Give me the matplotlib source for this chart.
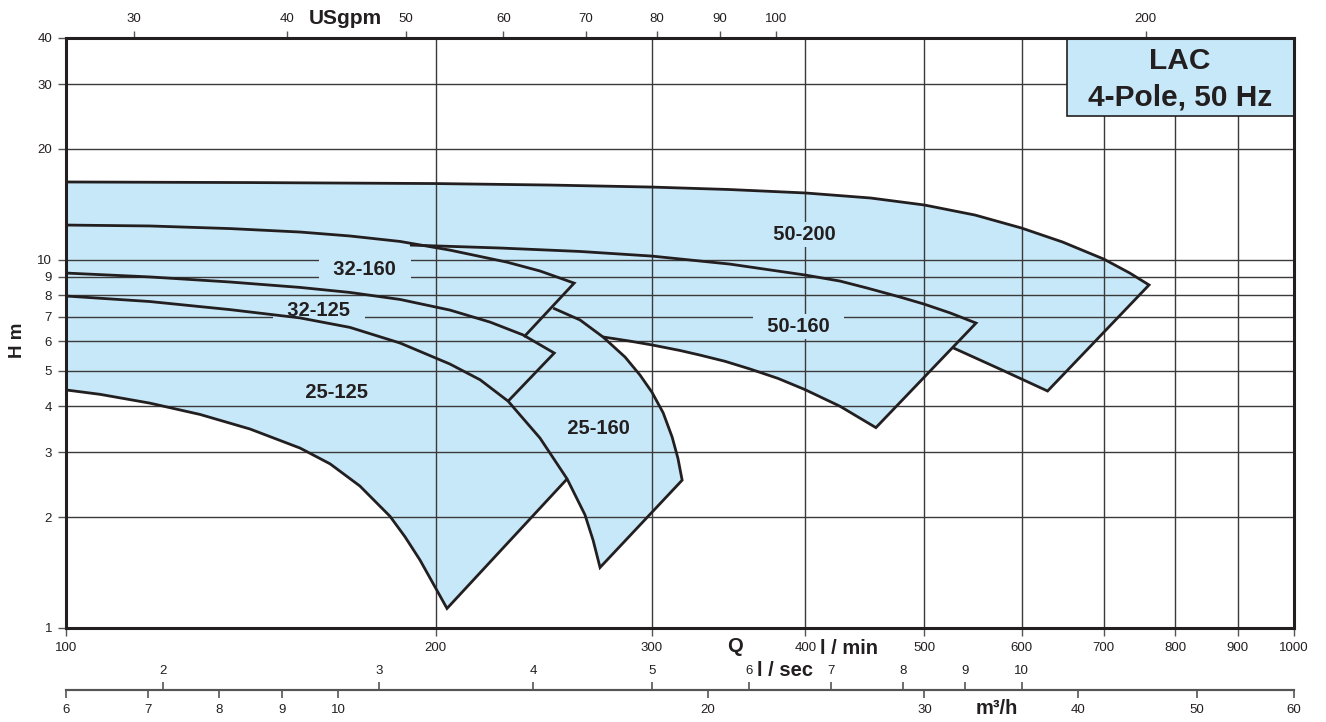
import matplotlib.pyplot as plt
from matplotlib.patches import Rectangle
from matplotlib.ticker import NullLocator

plt.rcParams['font.family'] = ['Liberation Sans', 'DejaVu Sans']

FILL = '#C7E8F8'
LINE = '#231F20'
GRID = '#3a3a3a'

# Q in l/min, H in m; max impeller (top) and min impeller (bottom)
q_50200_max = [100, 141, 200, 248, 300, 347, 400, 452, 500, 550, 600, 648, 700, 735, 762]
h_50200_max = [16.26, 16.2, 16.1, 15.95, 15.75, 15.51, 15.18, 14.71, 14.08, 13.22, 12.19,
               11.17, 10.04, 9.20, 8.54]
q_50200_min = [100, 200, 300, 400, 500, 528, 576, 630]
h_50200_min = [11.0, 10.0, 8.6, 7.3, 6.3, 5.76, 5.05, 4.40]

q_50160_max = [100, 155, 190.6, 225.6, 262.2, 300, 347.3, 399.7, 426.9, 449, 477.7, 499.6,
               524.8, 550.9]
h_50160_max = [11.4, 11.17, 10.96, 10.76, 10.53, 10.23, 9.73, 9.09, 8.75, 8.38, 7.92, 7.58,
               7.17, 6.73]
q_50160_min = [100, 187, 249, 273.7, 288.0, 300, 316.2, 328.2, 344.0, 360.6, 380.1, 399.7,
               426.9, 456.6]
h_50160_min = [8.3, 7.08, 6.45, 6.17, 6.01, 5.87, 5.67, 5.51, 5.30, 5.05, 4.76, 4.44, 4.00, 3.50]

q_32160_max = [100, 117, 136, 155.1, 170.3, 187.1, 205.4, 228.6, 243.2, 259.3]
h_32160_max = [12.42, 12.35, 12.15, 11.89, 11.60, 11.21, 10.62, 9.85, 9.32, 8.64]
q_32160_min = [100, 155, 205, 236]
h_32160_min = [8.6, 7.77, 6.95, 6.17]

q_32125_max = [100, 117, 136, 155.1, 170.3, 187.1, 205.4, 221.5, 235.6, 249.8]
h_32125_max = [9.20, 8.98, 8.70, 8.41, 8.15, 7.80, 7.30, 6.77, 6.25, 5.58]
q_32125_min = [100, 187, 229.1]
h_32125_min = [6.44, 4.86, 4.13]

q_25160_max = [100, 187, 249.3, 262.2, 273.7, 285.3, 293.4, 300, 306.4, 311.6, 315.0, 317.5]
h_25160_max = [10.6, 9.4, 7.39, 6.86, 6.17, 5.44, 4.86, 4.37, 3.84, 3.30, 2.89, 2.52]
q_25160_min = [100, 117, 136, 155.1, 170.3, 187.1, 205.4, 217.4, 229.1, 243.2, 255.9, 264.6,
               268.7, 272.2]
h_25160_min = [7.97, 7.70, 7.32, 6.95, 6.55, 5.94, 5.21, 4.72, 4.13, 3.28, 2.54, 2.03, 1.73, 1.46]

q_25125_max = [100, 187, 277.3]
h_25125_max = [7.6, 6.0, 3.38]
q_25125_min = [100, 106.6, 117.0, 128.6, 141.2, 155.1, 164.1, 173.5, 183.6, 188.8, 194.2, 204.3]
h_25125_min = [4.43, 4.31, 4.08, 3.80, 3.47, 3.08, 2.79, 2.43, 2.01, 1.77, 1.53, 1.13]
# where the 25-125 end line disappears under the 25-160 field
q_25125_cut = [255.9]
h_25125_cut = [2.54]

label_names = ['50-200', '50-160', '32-160', '32-125', '25-160', '25-125']
label_q = [399.7, 394.6, 175.2, 160.7, 271.7, 166.2]
label_h = [11.74, 6.57, 9.38, 7.30, 3.49, 4.37]

x_ticks = [100, 200, 300, 400, 500, 600, 700, 800, 900, 1000]
y_ticks = [1, 2, 3, 4, 5, 6, 7, 8, 9, 10, 20, 30, 40]
gpm_ticks = [30, 40, 50, 60, 70, 80, 90, 100, 200]
lsec_ticks = [2, 3, 4, 5, 6, 7, 8, 9, 10]
m3h_ticks = [6, 7, 8, 9, 10, 20, 30, 40, 50, 60]

W, H = 1326, 722
fig = plt.figure(figsize=(W / 100, H / 100), dpi=100)
ax = fig.add_axes([66 / W, 94 / H, 1228 / W, 590 / H])
ax.set_xscale('log')
ax.set_yscale('log')
ax.set_xlim(100, 1000)
ax.set_ylim(1, 40)

# fields
fields = [(q_50200_max, h_50200_max, q_50200_min, h_50200_min),
          (q_50160_max, h_50160_max, q_50160_min, h_50160_min),
          (q_32160_max, h_32160_max, q_32160_min, h_32160_min),
          (q_32125_max, h_32125_max, q_32125_min, h_32125_min),
          (q_25160_max, h_25160_max, q_25160_min, h_25160_min),
          (q_25125_max, h_25125_max, q_25125_min, h_25125_min)]
for qa, ha, qb, hb in fields:
    ax.fill(qa + qb[::-1], ha + hb[::-1], color=FILL, lw=0, zorder=1)


def outline(qa, ha, qb, hb):
    # top curve, end line, then the visible part of the lower curve back
    ax.plot(qa + qb[::-1], ha + hb[::-1], color=LINE, lw=2.0,
            solid_joinstyle='miter', solid_capstyle='butt', zorder=3)


outline(q_50200_max, h_50200_max, q_50200_min[5:], h_50200_min[5:])
outline(q_50160_max[2:], h_50160_max[2:], q_50160_min[3:], h_50160_min[3:])
outline(q_32160_max, h_32160_max, q_32160_min[-1:], h_32160_min[-1:])
outline(q_32125_max, h_32125_max, q_32125_min[-1:], h_32125_min[-1:])
outline(q_25160_max[2:], h_25160_max[2:], q_25160_min, h_25160_min)
outline(q_25125_cut, h_25125_cut, q_25125_min, h_25125_min)

for name, q, h in zip(label_names, label_q, label_h):
    ax.text(q, h, '  ' + name + '  ', ha='center', va='center', fontsize=14.5,
            fontweight='bold', color=LINE, zorder=2.7,
            bbox=dict(boxstyle='square,pad=0.15', fc=FILL, ec='none'))

ax.set_axisbelow(False)
ax.grid(True, which='major', color=GRID, lw=1.0)

ax.set_xticks(x_ticks, [str(v) for v in x_ticks])
ax.set_yticks(y_ticks, [str(v) for v in y_ticks])
ax.xaxis.set_minor_locator(NullLocator())
ax.yaxis.set_minor_locator(NullLocator())
ax.tick_params(which='major', length=6, width=1, color='#555555', labelsize=9.5,
               labelcolor=LINE, pad=4)
for s in ax.spines.values():
    s.set_linewidth(2.2)
    s.set_color(LINE)
    s.set_zorder(6)

# top USgpm scale
top = ax.secondary_xaxis('top', functions=(lambda q: q / 3.785, lambda g: g * 3.785))
top.set_xticks(gpm_ticks, [str(v) for v in gpm_ticks])
top.xaxis.set_minor_locator(NullLocator())
top.tick_params(length=5, width=1, color='#555555', labelsize=9.5, labelcolor=LINE, pad=4)
top.spines['top'].set_visible(False)

# bottom m3/h and l/sec scales on one line
loc = -62 / 590
m3h = ax.secondary_xaxis(loc, functions=(lambda q: q * 0.06, lambda m: m / 0.06))
m3h.set_xticks(m3h_ticks, [str(v) for v in m3h_ticks])
m3h.xaxis.set_minor_locator(NullLocator())
m3h.tick_params(length=6, width=1.2, color='#555555', labelsize=9.5, labelcolor=LINE, pad=4)
for s in m3h.spines.values():
    s.set_color('#555555')
    s.set_linewidth(1.5)

lsec = ax.secondary_xaxis(loc, functions=(lambda q: q / 60, lambda s: s * 60))
lsec.set_alignment('top')
lsec.set_xticks(lsec_ticks, [str(v) for v in lsec_ticks])
lsec.xaxis.set_minor_locator(NullLocator())
lsec.tick_params(length=6, width=1.2, color='#555555', labelsize=9.5, labelcolor=LINE, pad=3)
for s in lsec.spines.values():
    s.set_color('#555555')
    s.set_linewidth(1.5)

# LAC box
ax.add_patch(Rectangle((1001 / 1228, 512 / 590), 227 / 1228, 78 / 590, transform=ax.transAxes,
                       fc=FILL, ec=LINE, lw=1.2, zorder=4, clip_on=False))
ax.text(1114 / 1228, 567 / 590, 'LAC', transform=ax.transAxes, ha='center', va='center',
        fontsize=21.5, fontweight='bold', color=LINE, zorder=5)
ax.text(1114 / 1228, 531 / 590, '4-Pole, 50 Hz', transform=ax.transAxes, ha='center',
        va='center', fontsize=21.5, fontweight='bold', color=LINE, zorder=5)


def ftext(x, y, s, size=14.5, **kw):
    fig.text(x / W, 1 - y / H, s, ha='center', va='center', fontsize=size,
             fontweight='bold', color=LINE, **kw)


ftext(345, 18, 'USgpm', 15)
ftext(735, 647, 'Q')
ftext(849, 648, 'l / min')
ftext(785, 671, 'l / sec')
ftext(997, 709, 'm³/h')
ftext(18, 340, 'H m', 13.5, rotation=90)

fig.savefig('out.png', dpi=100)
